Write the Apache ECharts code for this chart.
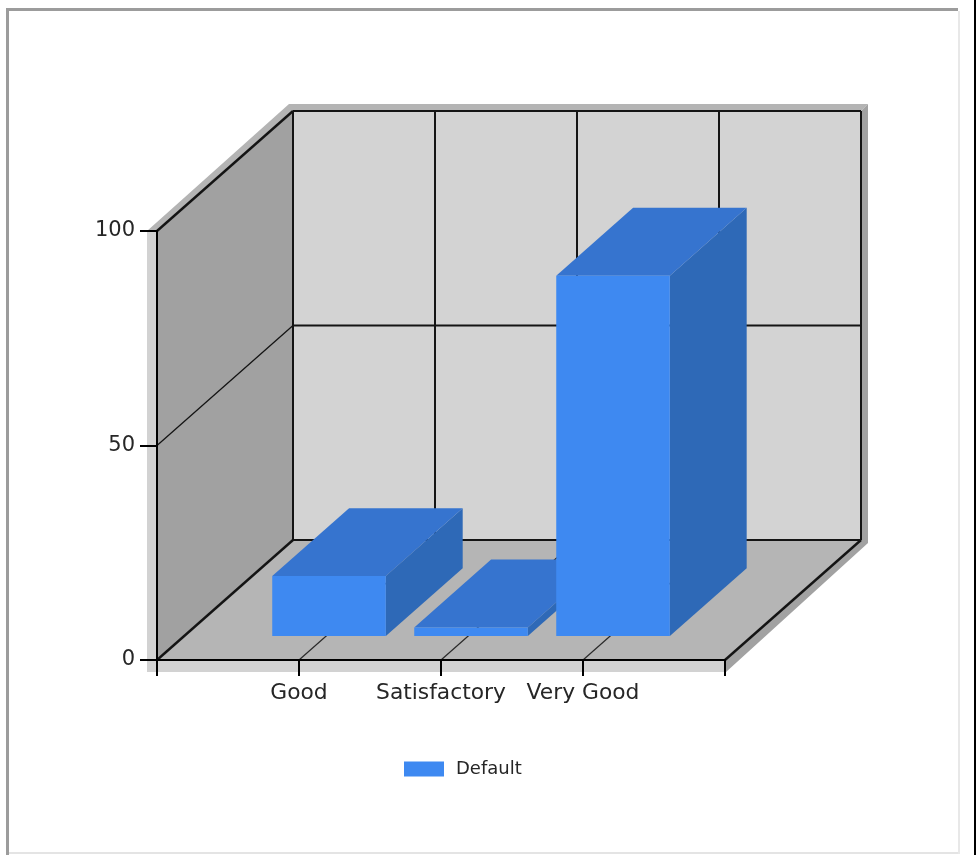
<!DOCTYPE html>
<html><head><meta charset="utf-8">
<style>html,body{margin:0;padding:0;background:#fff}#c{width:976px;height:855px}</style>
<script src="https://cdn.jsdelivr.net/npm/echarts@6/dist/echarts.min.js"></script>
</head><body><div id="c"></div>
<script>
const categories = ['Good', 'Satisfactory', 'Very Good'];
const values = [14, 2, 84];
const categorySlots = [1, 2, 3];
const valueTicks = [0, 50, 100];

// oblique projection: full depth of the plot box, in pixels
const DX = 136, DY = -120;
const BAR_WIDTH = 0.8, DEPTH_FROM = 0.2, DEPTH_TO = 0.765, BAR_SHIFT = 0.02;
const C = {
  wall: '#d3d3d3', side: '#a1a1a1', floor: '#b5b5b5',
  edgeLight: '#d2d2d2', edgeTop: '#b4b4b4', edgeDark: '#a2a2a2',
  front: '#3e89f1', top: '#3674cf', right: '#2e69b7', line: '#141414', text: '#262626'
};
const FONT = 'DejaVu Sans';

function p(api, x, y, d) {
  const c = api.coord([x, y]);
  return [c[0] + DX * d, c[1] + DY * d];
}
function poly(points, fill) {
  return { type: 'polygon', shape: { points }, style: { fill }, silent: true };
}
function seg(a, b, w, color) {
  return { type: 'line', shape: { x1: a[0], y1: a[1], x2: b[0], y2: b[1] },
    style: { stroke: color || C.line, lineWidth: w, fill: null }, silent: true };
}

function renderBox(params, api) {
  const cx = api.value(0) + BAR_SHIFT, v = api.value(1);
  const l = cx - BAR_WIDTH / 2, r = cx + BAR_WIDTH / 2, a = DEPTH_FROM, b = DEPTH_TO;
  const P = (x, y, d) => p(api, x, y, d);
  return { type: 'group', children: [
    poly([P(r,0,a), P(r,0,b), P(r,v,b), P(r,v,a)], C.right),
    poly([P(l,v,a), P(r,v,a), P(r,v,b), P(l,v,b)], C.top),
    poly([P(l,0,a), P(r,0,a), P(r,v,a), P(l,v,a)], C.front)
  ]};
}

function renderRoom(params, api) {
  const x0 = 0, x1 = 4, y0 = 0, y1 = 100;
  const P = (x, y, d) => p(api, x, y, d);
  const A = P(x0, y0, 0), B = P(x1, y0, 0), T = P(x0, y1, 0);
  const bA = P(x0, y0, 1), bB = P(x1, y0, 1), bT = P(x0, y1, 1), bTR = P(x1, y1, 1);
  const ch = [
    // outer thickness of the box
    poly([[T[0]-10,T[1]], [bT[0]-4,bT[1]-7], [bTR[0]+7,bTR[1]-7], bTR, bT, T], C.edgeTop),
    poly([bTR, [bTR[0]+7,bTR[1]-7], [bTR[0]+7,bB[1]+3], [B[0]+1,B[1]+12], B, bB], C.edgeDark),
    poly([[T[0]-10,T[1]], T, A, B, [B[0]+1,B[1]+12], [T[0]-10,A[1]+12]], C.edgeLight),
    poly([bT, bTR, bB, bA], C.wall),
    poly([T, bT, bA, A], C.side),
    poly([A, bA, bB, B], C.floor)
  ];
  // gridlines at value ticks
  valueTicks.forEach(v => {
    if (v > 0 && v < 100) ch.push(seg(P(x0, v, 0), P(x0, v, 1), 1.3));
    if (v > 0) ch.push(seg(P(x0, v, 1), P(x1, v, 1), 2));
  });
  // gridlines at category slots
  [0, 1, 2, 3, 4].forEach(k => {
    if (k > 0) ch.push(seg(P(k, y0, 1), P(k, y1, 1), 2));
    if (k > 0 && k < 4) ch.push(seg(P(k, y0, 0), P(k, y0, 1), 1.2, '#2a2a2a'));
  });
  ch.push(seg(bA, bT, 2));
  ch.push(seg(T, bT, 2.4));
  ch.push(seg(A, bA, 2.4));
  ch.push(seg(B, bB, 2.4));
  ch.push(seg(bA, bB, 2));
  return { type: 'group', children: ch };
}

const chart = echarts.init(document.getElementById('c'), null, { renderer: 'canvas' });
chart.setOption({
  animation: false,
  backgroundColor: '#fff',
  grid: { left: 157, right: 251, top: 231, bottom: 195, containLabel: false },
  xAxis: {
    type: 'value', min: 0, max: 4, interval: 1, z: 10,
    splitLine: { show: false },
    axisLine: { lineStyle: { color: '#000', width: 2 } },
    axisTick: { length: 16, lineStyle: { color: '#000', width: 2 } },
    axisLabel: { fontFamily: FONT, fontSize: 21.8, color: C.text, margin: 22,
      formatter: v => { const i = categorySlots.indexOf(v); return i >= 0 ? categories[i] : ''; } }
  },
  yAxis: {
    type: 'value', min: 0, max: 100, interval: 50, z: 10,
    splitLine: { show: false },
    axisLine: { show: true, lineStyle: { color: '#000', width: 2 } },
    axisTick: { length: 17, lineStyle: { color: '#000', width: 2 } },
    axisLabel: { fontFamily: FONT, fontSize: 21, color: C.text, margin: 22 }
  },
  legend: {
    show: true, left: 399, top: 755, itemWidth: 40, itemHeight: 15, itemGap: 0,
    icon: 'rect', data: [{ name: 'Default', itemStyle: { color: C.front } }],
    textStyle: { fontFamily: FONT, fontSize: 18, color: C.text, padding: [2, 0, 0, 7] }
  },
  graphic: [
    { type: 'rect', shape: { x: 6, y: 8, width: 952, height: 3 }, style: { fill: '#9c9c9c' }, silent: true },
    { type: 'rect', shape: { x: 6, y: 8, width: 3, height: 847 }, style: { fill: '#9c9c9c' }, silent: true },
    { type: 'rect', shape: { x: 9, y: 852, width: 950, height: 2 }, style: { fill: '#e4e4e4' }, silent: true },
    { type: 'rect', shape: { x: 958, y: 11, width: 2, height: 843 }, style: { fill: '#e8e8e8' }, silent: true },
    { type: 'rect', shape: { x: 974, y: 0, width: 2, height: 855 }, style: { fill: '#000' }, silent: true }
  ],
  series: [
    { type: 'custom', name: 'room', silent: true, z: 1, coordinateSystem: 'cartesian2d', clip: false,
      renderItem: renderRoom, data: [[0, 0]], legendHoverLink: false },
    { type: 'custom', name: 'Default', z: 3, coordinateSystem: 'cartesian2d', clip: false,
      renderItem: renderBox, itemStyle: { color: C.front },
      data: categorySlots.map((s, i) => [s, values[i]]) }
  ]
});
</script></body></html>
